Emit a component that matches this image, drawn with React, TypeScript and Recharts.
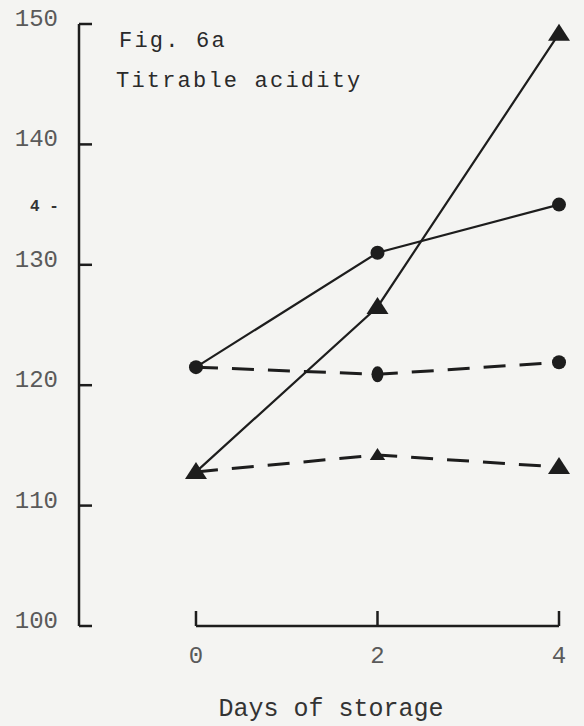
import { LineChart, Line, XAxis, YAxis, ReferenceLine } from "recharts";

// Titrable acidity over storage time, four treatments
const days = [0, 2, 4];
const solidCircle = [121.5, 131.0, 135.0];
const dashedCircle = [121.5, 120.9, 121.9];
const solidTriangle = [112.8, 126.5, 149.2];
const dashedTriangle = [112.8, 114.2, 113.2];
const yTicks = [100, 110, 120, 130, 140, 150];
const xTicks = [0, 2, 4];

const data = days.map((day, i) => ({
  day,
  sc: solidCircle[i],
  dc: dashedCircle[i],
  st: solidTriangle[i],
  dt: dashedTriangle[i],
}));

const INK = "#1d1d1d";
const MONO = "'Liberation Mono', 'DejaVu Sans Mono', monospace";

const tri = (cx: number, cy: number, s: number) =>
  `M${cx},${cy - s} L${cx + s * 1.1},${cy + s * 0.7} L${cx - s * 1.1},${cy + s * 0.7} Z`;

const circleDot = (props: any) => (
  <circle key={props.index} cx={props.cx} cy={props.cy} r={7} fill={INK} />
);

const triangleDot = (props: any) => (
  <path key={props.index} d={tri(props.cx, props.cy, 10)} fill={INK} />
);

// dashed series share their day-0 point with the solid ones
const dashedCircleDot = (props: any) => {
  const { cx, cy, index } = props;
  if (index === 0) return <g key={index} />;
  if (index === 1) return <ellipse key={index} cx={cx} cy={cy} rx={6} ry={8} fill={INK} />;
  return <circle key={index} cx={cx} cy={cy} r={7} fill={INK} />;
};

const dashedTriangleDot = (props: any) => {
  const { cx, cy, index } = props;
  if (index === 0) return <g key={index} />;
  return <path key={index} d={tri(cx, cy, index === 1 ? 7 : 10)} fill={INK} />;
};

const YTick = (props: any) => {
  const { x, y, payload } = props;
  return (
    <g>
      <line x1={x} y1={y} x2={x + 13} y2={y} stroke={INK} strokeWidth={2.5} />
      <text x={x - 21} y={y + 2} textAnchor="end" fontFamily={MONO} fontSize={24} fill="#5a5a5a">
        {payload.value}
      </text>
    </g>
  );
};

const XTick = (props: any) => {
  const { x, y, payload } = props;
  return (
    <g>
      <line x1={x} y1={y} x2={x} y2={y - 15} stroke={INK} strokeWidth={2.5} />
      <text x={x} y={y + 37} textAnchor="middle" fontFamily={MONO} fontSize={24} fill="#5a5a5a">
        {payload.value}
      </text>
    </g>
  );
};

export default function App() {
  return (
    <div
      style={{
        position: "absolute",
        left: 0,
        top: 0,
        width: 584,
        height: 726,
        background: "#f4f4f2",
        overflow: "hidden",
      }}
    >
      <div
        style={{
          position: "absolute",
          left: 119,
          top: 22,
          fontFamily: MONO,
          fontSize: 22,
          letterSpacing: 2.2,
          color: "#2a2a2a",
          lineHeight: "40px",
          whiteSpace: "pre",
        }}
      >
        <div>Fig. 6a</div>
        <div style={{ marginLeft: -3 }}>Titrable acidity</div>
      </div>
      <div
        style={{
          position: "absolute",
          left: 30,
          top: 198,
          fontFamily: MONO,
          fontSize: 16,
          fontWeight: "bold",
          color: "#333",
        }}
      >
        4 -
      </div>
      <LineChart
        width={584}
        height={726}
        data={data}
        margin={{ top: 24, right: 25, left: 19, bottom: 70 }}
      >
        <XAxis
          dataKey="day"
          type="number"
          domain={[-1.289, 4]}
          ticks={xTicks}
          axisLine={false}
          tickLine={false}
          tickSize={0}
          tickMargin={0}
          height={30}
          tick={<XTick />}
          label={{
            value: "Days of storage",
            position: "bottom",
            offset: 42,
            dx: 12,
            fontFamily: MONO,
            fontSize: 25,
            fill: "#333",
          }}
        />
        <YAxis
          type="number"
          domain={[100, 150]}
          ticks={yTicks}
          width={60}
          axisLine={{ stroke: INK, strokeWidth: 2.5 }}
          tickLine={false}
          tickSize={0}
          tickMargin={0}
          tick={<YTick />}
        />
        <ReferenceLine
          segment={[
            { x: 0, y: 100 },
            { x: 4, y: 100 },
          ]}
          stroke={INK}
          strokeWidth={2.5}
          ifOverflow="visible"
        />
        <Line
          dataKey="dc"
          type="linear"
          stroke={INK}
          strokeWidth={3}
          strokeDasharray="22 14"
          dot={dashedCircleDot}
          activeDot={false}
          isAnimationActive={false}
        />
        <Line
          dataKey="dt"
          type="linear"
          stroke={INK}
          strokeWidth={3}
          strokeDasharray="22 14"
          dot={dashedTriangleDot}
          activeDot={false}
          isAnimationActive={false}
        />
        <Line
          dataKey="sc"
          type="linear"
          stroke={INK}
          strokeWidth={2.2}
          dot={circleDot}
          activeDot={false}
          isAnimationActive={false}
        />
        <Line
          dataKey="st"
          type="linear"
          stroke={INK}
          strokeWidth={2.2}
          dot={triangleDot}
          activeDot={false}
          isAnimationActive={false}
        />
      </LineChart>
    </div>
  );
}
